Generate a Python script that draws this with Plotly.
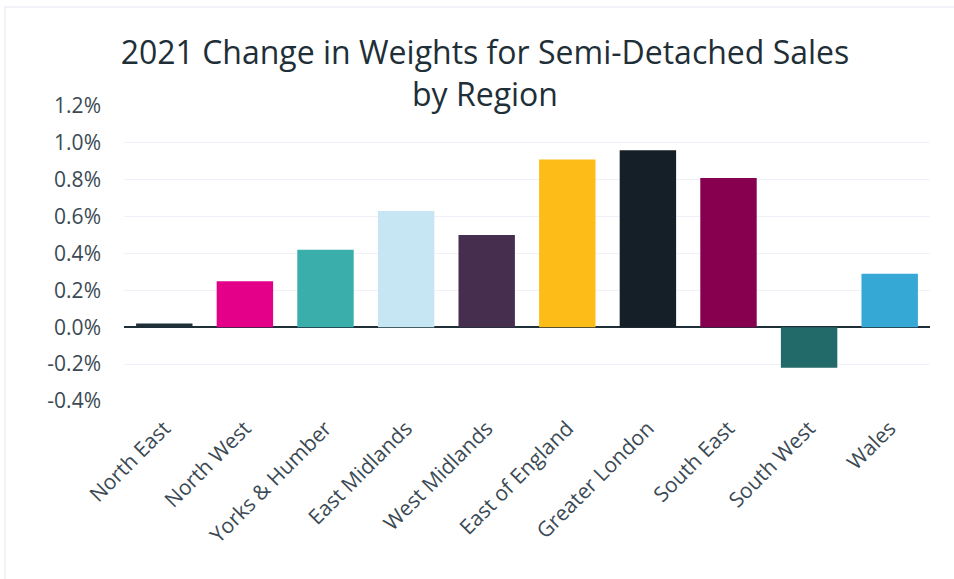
import plotly.graph_objects as go

regions = ["North East", "North West", "Yorks & Humber", "East Midlands", "West Midlands",
           "East of England", "Greater London", "South East", "South West", "Wales"]
weight_change = [0.02, 0.25, 0.42, 0.63, 0.50, 0.91, 0.96, 0.81, -0.22, 0.29]
bar_colors = ["#1f2f38", "#e5008a", "#3aaeab", "#c5e6f2", "#452e4e",
              "#fdbc17", "#141f27", "#870050", "#226a6a", "#35a8d6"]
tick_vals = [-0.4, -0.2, 0.0, 0.2, 0.4, 0.6, 0.8, 1.0, 1.2]
tick_text = ["-0.4%", "-0.2%", "0.0%", "0.2%", "0.4%", "0.6%", "0.8%", "1.0%", "1.2%"]

W, H = 954, 579
ML, MR, MT, MB = 124, 24, 106, 178

fig = go.Figure(go.Bar(
    x=regions,
    y=weight_change,
    marker=dict(color=bar_colors, line=dict(width=0)),
))

fig.update_layout(
    width=W, height=H,
    margin=dict(l=ML, r=MR, t=MT, b=MB),
    paper_bgcolor="white",
    plot_bgcolor="white",
    font=dict(family="Open Sans", color="#3b4a54"),
    title=dict(
        text="2021 Change in Weights for Semi-Detached Sales<br>by Region",
        x=485 / W, xanchor="center",
        y=1 - 64 / H, yanchor="top",
        font=dict(size=32, color="#1f2f38"),
    ),
    bargap=0.3,
    showlegend=False,
)

fig.update_xaxes(
    tickangle=-45,
    tickfont=dict(size=21),
    showgrid=False,
    showline=False,
    ticklabelstandoff=10,
)

fig.update_yaxes(
    range=[-0.4, 1.2],
    tickvals=tick_vals,
    ticktext=tick_text,
    tickfont=dict(size=21),
    gridcolor="#f2f1fa",
    gridwidth=1,
    zeroline=True,
    zerolinecolor="#1f2f38",
    zerolinewidth=2,
    ticklabelstandoff=22,
)

# faint frame around the card
px = lambda v: (v - ML) / (W - ML - MR)
py = lambda v: (H - MB - v) / (H - MT - MB)
fig.add_shape(type="rect", xref="paper", yref="paper",
              x0=px(5), x1=px(W + 5), y0=py(H + 5), y1=py(7),
              line=dict(color="#eeeef8", width=1.5), fillcolor="rgba(0,0,0,0)",
              layer="below")

fig.write_html("out.html", config={"displayModeBar": False},
               post_script="document.body.style.margin='0px';")
